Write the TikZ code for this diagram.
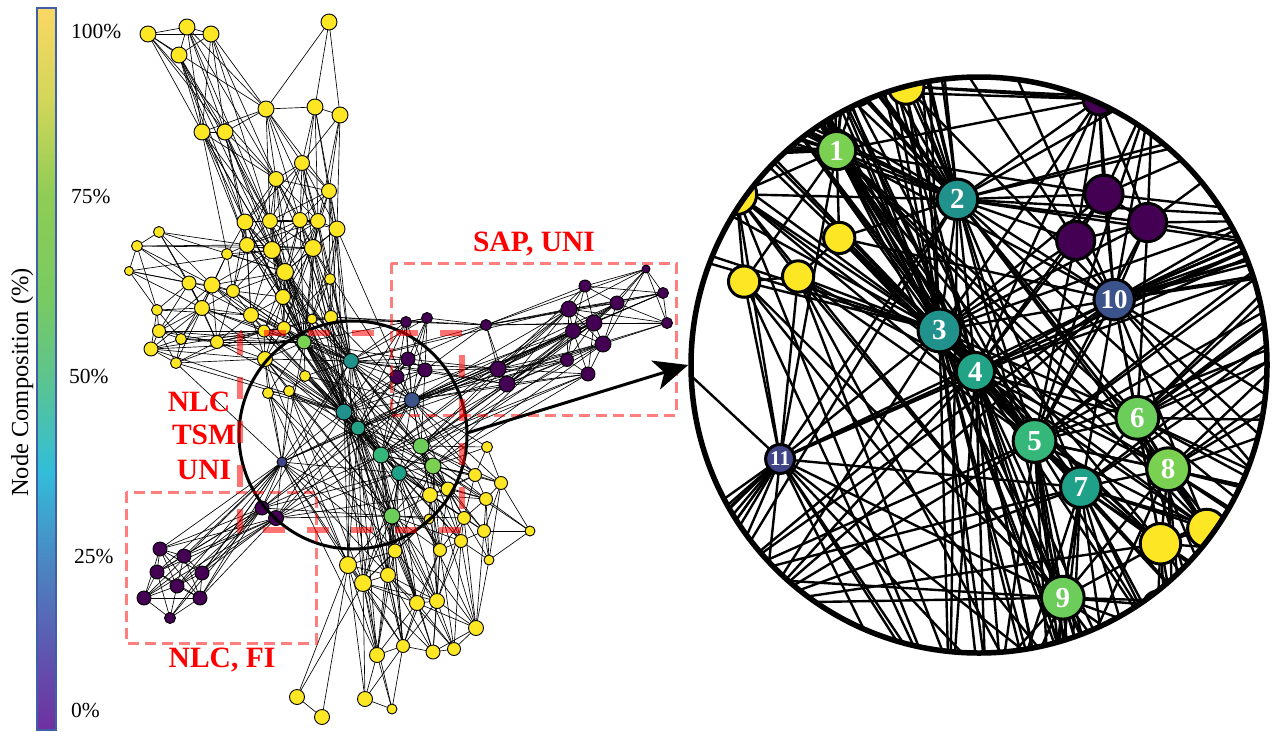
\documentclass[tikz,border=0pt]{standalone}
\usepackage{fontspec}
\setmainfont{Liberation Serif}
\usetikzlibrary{arrows.meta}
\definecolor{cY}{HTML}{FDE725}
\definecolor{cP}{HTML}{440154}
\definecolor{cLG}{HTML}{7AD151}
\definecolor{cMG}{HTML}{6CCD5A}
\definecolor{cGT}{HTML}{35B779}
\definecolor{cTA}{HTML}{21918C}
\definecolor{cTB}{HTML}{23A385}
\definecolor{cTC}{HTML}{1FA088}
\definecolor{cBL}{HTML}{3B528B}
\definecolor{cDB}{HTML}{414487}
\definecolor{cb1}{HTML}{FAD764}
\definecolor{cb2}{HTML}{D2D65A}
\definecolor{cb3}{HTML}{8FCC55}
\definecolor{cb4}{HTML}{78CA62}
\definecolor{cb5}{HTML}{5CC48E}
\definecolor{cb6}{HTML}{32BED8}
\definecolor{cb7}{HTML}{4A88C2}
\definecolor{cb8}{HTML}{5C5CB2}
\definecolor{cb9}{HTML}{7030A0}
\definecolor{cbframe}{HTML}{3F5FA8}

\def\nodelist{y1/148/34/8/cY,y2/187/27/8/cY,y3/211/34/8/cY,y4/179/55/8/cY,y5/329/22/8/cY,
y6/266/109/8/cY,y7/315/107/8/cY,y8/340/115/8/cY,y9/202/132/8/cY,y10/225/132/8/cY,
y11/302/163/7.5/cY,y12/276/179/7.5/cY,y13/329/191/7.5/cY,y14/245/222/8/cY,y15/270/221/7.5/cY,
y16/300/220/7.5/cY,y17/318/221/7.5/cY,y18/337/229/8/cY,y19/159/232/5.5/cY,y20/137/246/5.5/cY,
y21/129/271/4.5/cY,y22/247/245/7.5/cY,y23/272/250/8.5/cY,y24/313/248/8.5/cY,y25/227/254/5.5/cY,
y26/285/272/8.5/cY,y27/189/283/7/cY,y28/212/285/8/cY,y29/233/291/6.5/cY,y30/330/279/5.5/cY,
y31/283/297/7.5/cY,y32/157/310/5.5/cY,y33/202/308/7.5/cY,y34/251/315/7.5/cY,y35/159/331/6.5/cY,
y36/181/339/5.5/cY,y37/217/342/6.5/cY,y38/151/349/7/cY,y39/176/363/5.5/cY,y40/264/331/6/cY,
y41/284/328/6.5/cY,y42/312/319/5/cY,y43/331/317/6.5/cY,y44/265/359/7.5/cY,y45/305/376/5.5/cY,
y46/268/393/5.5/cY,y47/289/391/5.5/cY,
z1/487/447/5.5/cY,z2/475/475/6.5/cY,z3/501/483/6.5/cY,z4/448/489/7/cY,z5/430/495/7.5/cY,
z6/486/499/6.5/cY,z7/464/518/6.5/cY,z8/429/519/5/cY,z9/484/531/6.5/cY,z10/530/531/5/cY,
z11/461/541/6.5/cY,z12/440/550/6.5/cY,z13/395/551/7/cY,z14/489/560/5/cY,z15/348/565/8.5/cY,
z16/363/583/8.5/cY,z17/388/575/7.5/cY,z18/417/603/7.5/cY,z19/437/601/7.5/cY,z20/476/628/7.5/cY,
z21/403/646/6.5/cY,z22/377/655/7.5/cY,z23/433/652/7/cY,z24/454/649/6.5/cY,z25/297/697/7.5/cY,
z26/322/717/7.5/cY,z27/365/699/7.5/cY,z28/392/709/5/cY,
p1/406/322/5.5/cP,p2/427/318/5.5/cP,p3/408/359/7/cP,p4/425/370/7/cP,p5/397/377/7/cP,
p6/486/325/5.5/cP,p7/498/369/8/cP,p8/507/384/8/cP,p9/585/286/6/cP,p10/646/269/4/cP,
p11/663/293/5.5/cP,p12/667/323/5.5/cP,p13/569/309/8/cP,p14/617/303/7/cP,p15/594/323/8/cP,
p16/573/331/7.5/cP,p17/603/344/8/cP,p18/567/360/6.5/cP,p19/588/374/7/cP,
q1/262/508/7/cP,q2/276/518/7.5/cP,q3/160/549/7/cP,q4/184/556/7/cP,q5/157/572/7/cP,
q6/202/573/7/cP,q7/177/586/7/cP,q8/144/598/7/cP,q9/200/598/7/cP,q10/170/618/5.5/cP,
c1/304/342/7/cLG,c2/351/361/7.5/cTA,c3/344/412/8/cTA,c4/358/428/7/cTB,c5/381/455/8/cGT,
c6/421/446/8/cMG,c7/399/473/7.5/cTC,c8/433/466/8/cLG,c9/392/516/8/cMG,c10/412/400/7.5/cBL,
c11/282/462/5/cDB}

\def\edgelist{y1/{y2,y3,y4,y9,y10,y6,y12},
y2/{y3,y4,y9,y10,y6,y12,y15},
y3/{y4,y9,y10,y6,y12,y15},
y4/{y9,y10,y14,y15,y22,y23},
y5/{y6,y7,y8},
y6/{y7,y9,y10,y11,y12,y13,y15,y16,y17},
y7/{y8,y11,y13,y16,y17,y18},
y8/{y11,y13,y18,y24},
y9/{y10,y14,y22,y15,y23,y25,y26,y12},
y10/{y14,y12,y22,y15,y23,y26},
y11/{y12,y13,y14,y15,y16,y17,y18,y23,y24,c2},
y12/{y13,y14,y15,y16,y17,y22,y23,y24,y26,c2,c1},
y13/{y15,y16,y17,y18,y24,y30,c2,c3},
y14/{y15,y16,y22,y23,y26,y25,y29,y34,y31,c3,c1,c2},
y15/{y16,y17,y22,y23,y24,y26,y31,c2,c3,c1},
y16/{y17,y18,y23,y24,y26,y22,y31,c3,c1,c4},
y17/{y18,y24,y23,y26,y22,y31,y41,c2,c3,c1},
y18/{y24,y30,y42,y43,y26,c2,c3,c10},
y19/{y20,y22,y27,y33,y28,y26},
y20/{y21,y22,y27,y32,y28,y24},
y21/{y27,y32,y29,y33,y23},
y22/{y23,y24,y26,y29,y25,y34,y31,c3,c2,c1},
y23/{y24,y26,y31,y29,y34,y41,c2,c3,c1,c4},
y24/{y26,y31,y41,y30,y42,c2,c4,c3,c1,c10},
y25/{y26,y29,y28,y33,y23},
y26/{y31,y34,y41,y29,y40,c1,c2,c3,y42,c4,c5},
y27/{y28,y32,y33,y35,y37,y34},
y28/{y29,y33,y34,y37,y35,y36,y23,y26,c3,c1},
y29/{y33,y34,y37,y31,y41,c1,c2},
y30/{y43,y42,c2,y41},
y31/{y34,y41,y40,y44,c1,c3,c4,c2},
y32/{y33,y35,y38,y36,y34},
y33/{y35,y36,y37,y38,y34,y39,y40,c1,c3},
y34/{y37,y40,y41,y44,c1,c3,c2},
y35/{y36,y38,y39,y37,y40,c1},
y36/{y38,y37,y39,y41,c1},
y37/{y39,y44,y40,y41,c1,c3},
y38/{y39,y44,y41,c1,c3},
y39/{y44,y40,c3,c11},
y40/{y41,y44,c1,c3,c2},
y41/{c1,y42,y43,c2,y44,c3,c4,c5},
y42/{y43,c1,c2,p1},
y43/{c2,c3,p1,p6,c10},
y44/{c1,c3,c11,y46,y47,z15,c5,c2,c4,c9},
y45/{c1,c2,c3,c4,y47,c10,c5,c7},
y46/{y47,c11,z15,c3,c9,z13},
y47/{c11,c3,z16,c4,c9,c5,z17},
c1/{c2,c3,c4,c5,c7,c6,z5,p3,y46,c8,c9,c10,c11,z4},
c2/{c3,c4,c5,c7,c10,p1,p2,p3,p6,c6,c8,z4,p7,p13,c9,c11,p4,p5,p8,z2},
c3/{c4,c5,c7,c11,c9,z15,z16,c6,c8,c10,z5,z4,p5,p16,z13},
c4/{c5,c7,c6,c8,c9,z17,z15,z13,z12,z5,z4,c10,p17,z21,p15,p16},
c5/{c6,c7,c8,c9,z5,z4,z2,c10,z13,z17,z18,p19,p7,p8,p13},
c6/{c7,c8,c10,z1,z2,z4,z5,p7,p8,z3,p13,p15,p16,p17,p19,z6},
c7/{c8,c9,z4,z5,z6,z7,z9,z12,z11,z18,p15,p18},
c8/{z1,z2,z3,z4,z5,z6,z7,z9,c9,z10,p16,p19,p17},
c9/{z5,z7,z11,z12,z13,z17,z18,z19,z16,z15,z8,z21,z22,z23,z24,z20},
c10/{p3,p4,p5,p1,p2,p7,p8,p13,p15,p16,p17,p18,p19,c11,z2,z3,c9,p11,p12,p14,z4,z5,z1},
c11/{q1,q2,c4,c7,c9,z13,z15,q3,q4,q5,q6,q7,q8,q9,p7,z22,q10,z16,z17},
q1/{q2,q3,q4,q5,q6,q7,q8,q9,c2,c4,c5,c7,c9,c10,q10},
q2/{q3,q4,q5,q6,q7,q8,q9,c9,c5,c7,z5,c3,c4,c10},
q3/{q4,q5,q6,q7,q8,q9},
q4/{q5,q6,q7,q9},
q5/{q7,q8,q9,q10},
q6/{q7,q9},
q7/{q8,q9,q10},
q8/{q9,q10},
q9/{q10},
p1/{p2,p3,p4,p5,p6,c3,c4},
p2/{p3,p4,p6,c1,c5},
p3/{p4,p5,p6,p7,c3,c4},
p4/{p5,p7,p8,p6,c3,c5,c6},
p5/{c4,c5},
p6/{p7,p8,p9,p10,p13,p14,p15,p11,p12},
p7/{p8,p13,p15,p16,p17,p18,p19,p14,p9},
p8/{p13,p16,p17,p19,p18,p15,p14},
p9/{p10,p13,p14,p15,p16,p11},
p10/{p13,p14,p15,p11,p12,p17},
p11/{p13,p14,p15,p16,p12},
p12/{p14,p15,p17,p13},
p13/{p14,p15,p16,p18,p17},
p14/{p15,p16,p17},
p15/{p16,p17,p18,p19},
p16/{p17,p18,p19},
p17/{p19},
p18/{p19},
z1/{z2,z3},
z2/{z3,z4,z6,z5,z7},
z3/{z6,z9,z10,z14},
z4/{z5,z6,z7,z9,z11,z12},
z5/{z6,z7,z8,z11,z12,z19},
z6/{z7,z9,z10,z14},
z7/{z9,z11,z12,z14,z19,z20},
z8/{z12,z13,z16},
z9/{z10,z11,z14,z20},
z10/{z14},
z11/{z12,z14,z20,z24,z19,c5,c6},
z12/{z18,z19,z21,z23,z24,c5,c8},
z13/{z15,z16,z17,z18,z19,z21,z22,c7,c8},
z14/{z20},
z15/{z16,z17,z25,z26,z27,z22,z21,c2},
z16/{z17,z18,z19,z21,z22,z27,z28,z23,z25,c4,c5,c7},
z17/{z18,z19,z21,z22,z23,z24,c3,c7},
z18/{z19,z20,z21,z22,z23,z24,c3,c4},
z19/{z20,z21,z23,z24,c4,c7,c8},
z20/{z23,z24,c7,c6},
z21/{z22,z23,z27,z28,c3,c5},
z22/{z27,z28,c3,c4},
z23/{z24},
z25/{z26},
z27/{z28}}

\begin{document}
\begin{tikzpicture}[x=1pt, y=-1pt,
  edgeL/.style={line width=0.65pt, black},
  edgeR/.style={line width=2.4pt, black},
  lvtx/.style={circle, draw=black, line width=0.9pt, inner sep=0pt, outer sep=0pt},
  rvtx/.style={circle, draw=black, line width=3pt, inner sep=0pt, outer sep=0pt},
  numlbl/.style={text=white, inner sep=0pt},
  pct/.style={anchor=base west, inner sep=0pt, font=\fontsize{21.5}{24}\selectfont},
  redlbl/.style={anchor=base, inner sep=0pt, text=red, font=\fontsize{29.5}{33}\selectfont\bfseries},
  thinbox/.style={draw=red, draw opacity=0.5, line width=3pt, dash pattern=on 11pt off 6pt},
  thickbox/.style={draw=red, draw opacity=0.55, line width=6.5pt, dash pattern=on 22pt off 22pt},
  lensring/.style={circle, draw=black, line width=3pt, inner sep=0pt, outer sep=0pt},
  magring/.style={circle, draw=black, line width=5.5pt, inner sep=0pt},
  bigarrow/.style={line width=3pt, -{Stealth[length=34pt, width=30pt, inset=9pt]}}]
\useasboundingbox (0,0) rectangle (1273,731);
\fill[white] (0,0) rectangle (1273,731);

% colour bar
\shade[top color=cb1, bottom color=cb2] (37,8) rectangle (56,100.5);
\shade[top color=cb2, bottom color=cb3] (37,100) rectangle (56,195.5);
\shade[top color=cb3, bottom color=cb4] (37,195) rectangle (56,300.5);
\shade[top color=cb4, bottom color=cb5] (37,300) rectangle (56,378.5);
\shade[top color=cb5, bottom color=cb6] (37,378) rectangle (56,470.5);
\shade[top color=cb6, bottom color=cb7] (37,470) rectangle (56,560.5);
\shade[top color=cb7, bottom color=cb8] (37,560) rectangle (56,640.5);
\shade[top color=cb8, bottom color=cb9] (37,640) rectangle (56,730);
\draw[cbframe, line width=1.2pt] (37,8) rectangle (56,730);
\node[pct] (t100) at (71,38) {100\%};
\node[pct] (t75) at (71,203) {75\%};
\node[pct] (t50) at (69,383) {50\%};
\node[pct] (t25) at (74,563) {25\%};
\node[pct] (t0) at (71,717) {0\%};
\node[rotate=90, anchor=base west, inner sep=0pt, font=\fontsize{24.5}{26}\selectfont] (cbtitle) at (28,497) {Node Composition (\%)};

% coordinates of the network (left view and magnified view)
\foreach \n/\x/\y/\r/\c in \nodelist {
  \coordinate (L\n) at (\x,\y);
  \coordinate (R\n) at ({55.35+2.57*\x},{-728.4+2.57*\y});
}

% left network
\foreach \a/\l in \edgelist { \foreach \b in \l { \draw[edgeL] (L\a) -- (L\b); } }
\foreach \n/\x/\y/\r/\c in \nodelist {
  \node[lvtx, fill=\c, minimum size={2*\r*1pt}] (LN\n) at (L\n) {};
}

% lens
\node[lensring, minimum size=228pt] (lens) at (353,435) {};

% cluster boxes
\draw[thinbox] (391,263) rectangle (676,415);
\draw[thinbox] (126,492) rectangle (316,643);
\draw[thickbox] (240,333) rectangle (462,530);

\node[redlbl] (lsap) at (534,251) {SAP, UNI};
\node[redlbl] (lfi) at (222,667) {NLC, FI};
\node[redlbl] (lnlc) at (199,411) {NLC};
\node[redlbl] (ltsm) at (204,444) {TSM};
\node[redlbl] (luni) at (204,479) {UNI};

% magnified view
\begin{scope}
  \clip (979,365) circle (288pt);
  \foreach \a/\l in \edgelist { \foreach \b in \l { \draw[edgeR] (R\a) -- (R\b); } }
  \foreach \n/\x/\y/\r/\c in \nodelist {
    \node[rvtx, fill=\c, minimum size={(4.6*\r+6)*1pt}] (RN\n) at (R\n) {};
  }
  \foreach \i/\fs in {1/29,2/29,3/29,4/29,5/29,6/29,7/29,8/29,9/29,10/27,11/21} {
    \node[numlbl, font=\fontsize{\fs}{\fs}\selectfont\bfseries] (num\i) at (Rc\i) {\i};
  }
\end{scope}
\node[magring, minimum size=576pt] (mag) at (979,365) {};

\draw[bigarrow] (lens.1) -- (mag.180);
\end{tikzpicture}
\end{document}
